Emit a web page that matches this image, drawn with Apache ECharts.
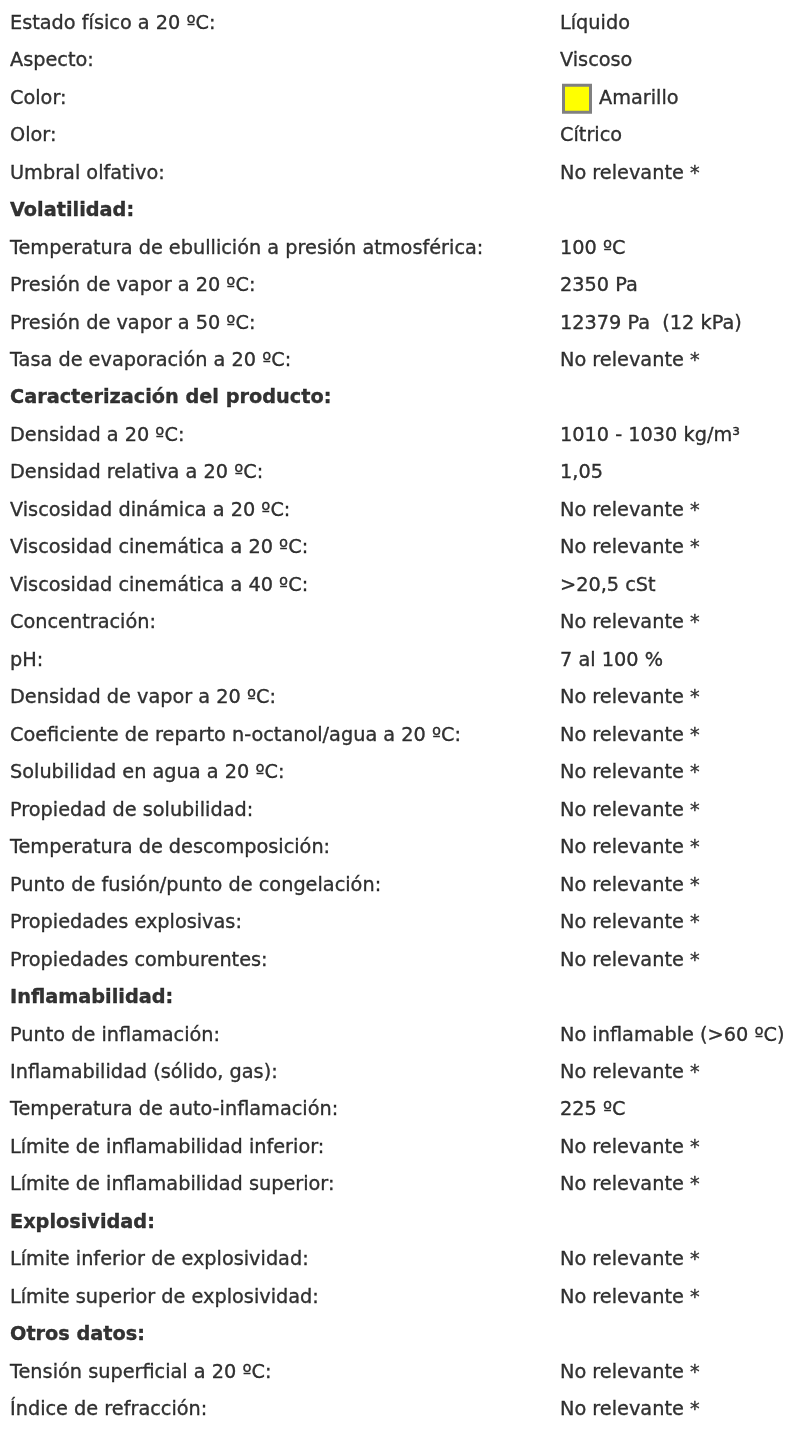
<!DOCTYPE html>
<html>
<head>
<meta charset="utf-8">
<title>Propiedades físicas y químicas</title>
<script src="https://cdn.jsdelivr.net/npm/echarts@6/dist/echarts.min.js"></script>
<style>
    html, body { margin: 0; padding: 0; background: #fff; }
    #main { width: 789px; height: 1429px; }
</style>
</head>
<body>
<div id="main"></div>
<script>
// etiquetas de la columna izquierda
var labels = [
    'Estado físico a 20 ºC:', 'Aspecto:', 'Color:', 'Olor:', 'Umbral olfativo:',
    'Volatilidad:',
    'Temperatura de ebullición a presión atmosférica:', 'Presión de vapor a 20 ºC:',
    'Presión de vapor a 50 ºC:', 'Tasa de evaporación a 20 ºC:',
    'Caracterización del producto:',
    'Densidad a 20 ºC:', 'Densidad relativa a 20 ºC:', 'Viscosidad dinámica a 20 ºC:',
    'Viscosidad cinemática a 20 ºC:', 'Viscosidad cinemática a 40 ºC:', 'Concentración:',
    'pH:', 'Densidad de vapor a 20 ºC:', 'Coeficiente de reparto n-octanol/agua a 20 ºC:',
    'Solubilidad en agua a 20 ºC:', 'Propiedad de solubilidad:', 'Temperatura de descomposición:',
    'Punto de fusión/punto de congelación:', 'Propiedades explosivas:', 'Propiedades comburentes:',
    'Inflamabilidad:',
    'Punto de inflamación:', 'Inflamabilidad (sólido, gas):', 'Temperatura de auto-inflamación:',
    'Límite de inflamabilidad inferior:', 'Límite de inflamabilidad superior:',
    'Explosividad:',
    'Límite inferior de explosividad:', 'Límite superior de explosividad:',
    'Otros datos:',
    'Tensión superficial a 20 ºC:', 'Índice de refracción:'
];
// valores de la columna derecha ('' = fila de título)
var NR = 'No relevante *';
var values = [
    'Líquido', 'Viscoso', 'Amarillo', 'Cítrico', NR,
    '',
    '100 ºC', '2350 Pa', '12379 Pa  (12 kPa)', NR,
    '',
    '1010 - 1030 kg/m³', '1,05', NR, NR, '>20,5 cSt', NR,
    '7 al 100 %', NR, NR, NR, NR, NR, NR, NR, NR,
    '',
    'No inflamable (>60 ºC)', NR, '225 ºC', NR, NR,
    '',
    NR, NR,
    '',
    NR, NR
];
// filas en negrita
var headers = ['Volatilidad:', 'Caracterización del producto:', 'Inflamabilidad:', 'Explosividad:', 'Otros datos:'];
// muestra de color
var swatchRow = 'Color:';
var swatchColor = '#ffff00';

var FONT = '"DejaVu Sans", sans-serif';
var chart = echarts.init(document.getElementById('main'), null, { renderer: 'canvas' });

var leftData = [], rightData = [], swatchData = [];
for (var i = 0; i < labels.length; i++) {
    var bold = headers.indexOf(labels[i]) >= 0;
    leftData.push({ value: [10, labels[i]], name: labels[i], label: { fontWeight: bold ? 'bold' : 'normal' } });
    if (values[i] !== '') {
        var x = labels[i] === swatchRow ? 599 : 560;
        rightData.push({ value: [x, labels[i]], name: values[i] });
    }
    if (labels[i] === swatchRow) {
        swatchData.push([577, labels[i]]);
    }
}

// serie de solo texto
function textSeries(data) {
    return {
        type: 'scatter',
        data: data,
        symbolSize: 0,
        silent: true,
        label: {
            show: true,
            position: 'right',
            distance: 0,
            color: '#000',
            textBorderColor: '#000',
            textBorderWidth: 0.35,
            fontFamily: FONT,
            fontSize: 19.3,
            formatter: function (p) { return p.data.name; }
        }
    };
}

var option = {
    animation: false,
    backgroundColor: '#fff',
    grid: { left: 0, right: 0, top: 5, bottom: 0 },
    xAxis: { type: 'value', min: 0, max: 789, show: false },
    yAxis: { type: 'category', data: labels, inverse: true, show: false },
    series: [
        textSeries(leftData),
        textSeries(rightData),
        {
            type: 'scatter',
            data: swatchData,
            symbol: 'rect',
            symbolSize: 27,
            silent: true,
            itemStyle: { color: swatchColor, borderColor: '#808080', borderWidth: 3, opacity: 1 }
        }
    ]
};
chart.setOption(option);
</script>
</body>
</html>
